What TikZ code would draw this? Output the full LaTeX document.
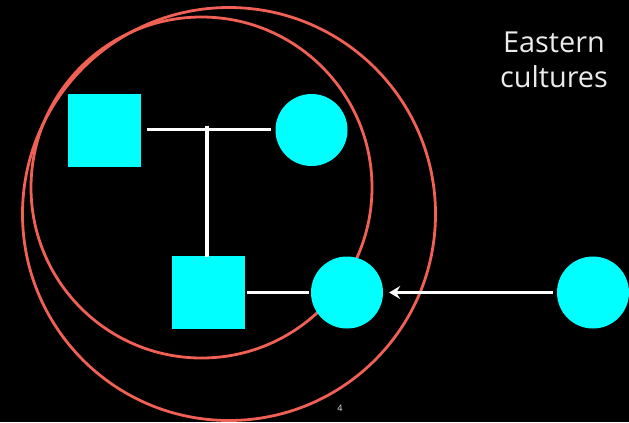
\documentclass[tikz,border=0pt]{standalone}
\usepackage{fontspec}
\setmainfont{Open Sans}
\usetikzlibrary{arrows.meta}
\definecolor{cyanfill}{RGB}{0,255,255}
\definecolor{ringred}{RGB}{240,96,84}
\definecolor{txtgray}{RGB}{235,235,235}
\tikzset{
  sq/.style={fill=cyanfill, draw=none, minimum size=73bp, inner sep=0pt, rectangle},
  circ/.style={fill=cyanfill, draw=none, minimum size=72bp, inner sep=0pt, circle},
  link/.style={draw=white, line width=3.2bp},
  ring/.style={draw=ringred, line width=2.8bp},
}
\begin{document}
\begin{tikzpicture}[x=1bp,y=-1bp]
\fill[black] (0,0) rectangle (629,422);
\useasboundingbox (0,0) rectangle (629,422);
\draw[ring] (201.5,187.5) circle[radius=170.5bp];
\draw[ring] (229,214) circle[radius=206.5bp];
\node[sq] (f) at (104.5,130.5) {};
\node[circ] (m) at (311.5,130) {};
\node[sq] (s) at (208.5,292.5) {};
\node[circ] (w) at (347,292.5) {};
\node[circ] (o) at (593,292.5) {};
\coordinate (j) at (207,129.5);
\draw[link] ([xshift=6bp]f.east |- j) -- ([xshift=-4bp]m.west |- j);
\draw[link] ([yshift=4bp]j) -- ([yshift=-1bp]j |- s.north);
\draw[link] ([xshift=2bp]s.east) -- ([xshift=-2bp]w.west);
\draw[link, -{Stealth[length=11bp,width=13bp,inset=4bp]}] ([xshift=-4bp]o.west) -- ([xshift=6bp]w.east);
\node[text=txtgray, align=center, font=\fontsize{29}{35}\selectfont] (t) at (554,60) {Eastern\\cultures};
\node[text=txtgray, font=\fontsize{9}{10}\selectfont] (p) at (340,408) {4};
\end{tikzpicture}
\end{document}
